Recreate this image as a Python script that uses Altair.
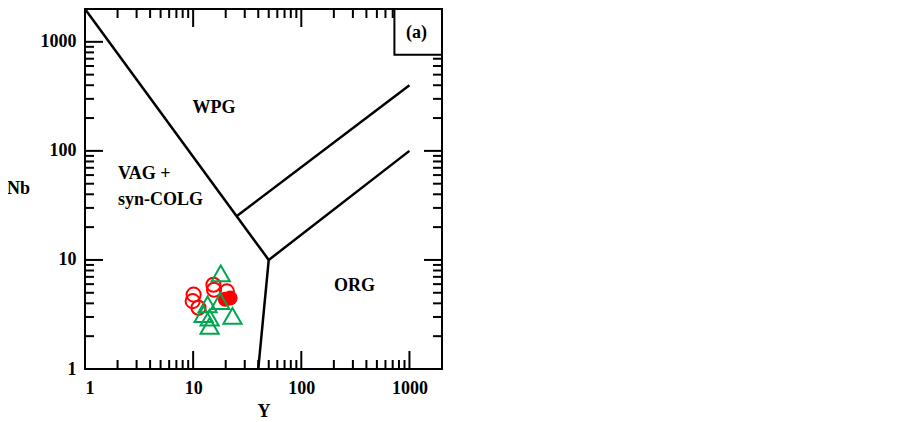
import altair as alt
import pandas as pd

# ---------------- data ----------------
open_circle_y = [10.1, 9.9, 11.2, 15.4, 15.6, 20.5]
open_circle_nb = [4.81, 4.19, 3.64, 5.92, 5.33, 5.15]
filled_circle_y = [22.0, 19.8]
filled_circle_nb = [4.48, 4.36]
triangle_y = [18.0, 13.6, 17.8, 12.5, 14.2, 14.2, 23.1]
triangle_nb = [7.53, 3.91, 4.19, 3.18, 2.96, 2.49, 3.07]

# field boundaries (segment id, Y, Nb)
seg_ids = ["A", "A", "B", "B", "C", "C", "D", "D"]
seg_y = [1, 50, 50, 40, 50, 1000, 25, 1000]
seg_nb = [2000, 10, 10, 1, 10, 100, 25, 400]
seg_order = [0, 1, 0, 1, 0, 1, 0, 1]

field_names = ["WPG", "ORG"]
field_y = [15.6, 310]
field_nb = [247, 5.77]
left_names = ["VAG +", "syn-COLG"]
left_y = [2.02, 2.02]
left_nb = [61.4, 35.5]

major_ticks = [1, 10, 100, 1000]
minor_ticks = [m * 10 ** k for k in range(3) for m in range(2, 10)]

panel_label = "(a)"

# ---------------- chart ----------------
W, H = 357, 360
FONT = "Liberation Serif"
FS = 18
RED = "#ff0000"
GREEN = "#00a651"

xs = alt.Scale(type="log", domain=[1, 2000], nice=False)
ys = alt.Scale(type="log", domain=[1, 2000], nice=False)

x_axis = alt.Axis(values=major_ticks, format="d", title="Y", labelPadding=10,
                  titleX=W / 2, titleY=42, titleBaseline="middle",
                  titleAlign="center")
y_axis = alt.Axis(values=major_ticks, format="d", title="Nb", labelPadding=9,
                  titleAngle=0, titleX=-67, titleY=179, titleAlign="center",
                  titleBaseline="middle")


def X(field):
    return alt.X(field, scale=xs, axis=x_axis)


def Y(field):
    return alt.Y(field, scale=ys, axis=y_axis)


segs = pd.DataFrame({"seg": seg_ids, "Y": seg_y, "Nb": seg_nb, "o": seg_order})
lines = alt.Chart(segs).mark_line(color="black", strokeWidth=2.5).encode(
    x=X("Y:Q"), y=Y("Nb:Q"), detail="seg:N", order="o:Q")

maj = pd.DataFrame({"v": major_ticks})
mino = pd.DataFrame({"v": minor_ticks})


def xticks(df, length):
    bottom = alt.Chart(df).mark_rule(color="black", strokeWidth=2).encode(
        x=X("v:Q"), y=alt.value(H), y2=alt.value(H - length))
    top = alt.Chart(df).mark_rule(color="black", strokeWidth=2).encode(
        x=X("v:Q"), y=alt.value(0), y2=alt.value(length))
    return bottom + top


def yticks(df, length):
    left = alt.Chart(df).mark_rule(color="black", strokeWidth=2).encode(
        y=Y("v:Q"), x=alt.value(0), x2=alt.value(length))
    right = alt.Chart(df).mark_rule(color="black", strokeWidth=2).encode(
        y=Y("v:Q"), x=alt.value(W), x2=alt.value(W - length))
    return left + right


ticks = xticks(maj, 18) + xticks(mino, 9) + yticks(maj, 18) + yticks(mino, 9)

fields = pd.DataFrame({"name": field_names, "Y": field_y, "Nb": field_nb})
field_text = alt.Chart(fields).mark_text(
    font=FONT, fontSize=FS, fontWeight="bold", align="center",
    baseline="middle", color="black").encode(
    x=X("Y:Q"), y=Y("Nb:Q"), text="name:N")

lefts = pd.DataFrame({"name": left_names, "Y": left_y, "Nb": left_nb})
left_text = alt.Chart(lefts).mark_text(
    font=FONT, fontSize=FS, fontWeight="bold", align="left",
    baseline="middle", color="black").encode(
    x=X("Y:Q"), y=Y("Nb:Q"), text="name:N")

box = pd.DataFrame({"x1": [726], "x2": [2000], "y1": [760], "y2": [2000],
                    "tx": [1161], "ty": [1205], "t": [panel_label]})
box_rect = alt.Chart(box).mark_rect(fill="white", stroke="black", strokeWidth=2).encode(
    x=X("x1:Q"), x2="x2:Q", y=Y("y1:Q"), y2="y2:Q")
box_text = alt.Chart(box).mark_text(
    font=FONT, fontSize=FS, fontWeight="bold", align="center",
    baseline="middle", color="black").encode(
    x=X("tx:Q"), y=Y("ty:Q"), text="t:N")

oc = pd.DataFrame({"Y": open_circle_y, "Nb": open_circle_nb})
fc = pd.DataFrame({"Y": filled_circle_y, "Nb": filled_circle_nb})
tr = pd.DataFrame({"Y": triangle_y, "Nb": triangle_nb})

open_circles = alt.Chart(oc).mark_point(
    shape="circle", size=200, filled=False, stroke=RED, strokeWidth=2,
    opacity=1).encode(x=X("Y:Q"), y=Y("Nb:Q"))
filled_circles = alt.Chart(fc).mark_point(
    shape="circle", size=220, filled=True, fill=RED, opacity=1,
    strokeWidth=0).encode(x=X("Y:Q"), y=Y("Nb:Q"))
triangles = alt.Chart(tr).mark_point(
    shape="triangle-up", size=330, filled=False, stroke=GREEN,
    strokeWidth=2, opacity=1).encode(x=X("Y:Q"), y=Y("Nb:Q"))

chart = alt.layer(
    lines, ticks, field_text, left_text, box_rect, box_text,
    open_circles, filled_circles, triangles
).properties(
    width=W, height=H,
    autosize=alt.AutoSizeParams(type="none"),
    padding={"left": 77, "top": 1, "right": 20, "bottom": 52},
).configure_view(
    stroke="black", strokeWidth=2
).configure_axis(
    grid=False, ticks=False, domain=False,
    labelFont=FONT, labelFontSize=FS, labelFontWeight="bold", labelColor="black",
    titleFont=FONT, titleFontSize=FS, titleFontWeight="bold", titleColor="black",
)

chart.save("out.html", embed_options={"renderer": "svg", "actions": False})
